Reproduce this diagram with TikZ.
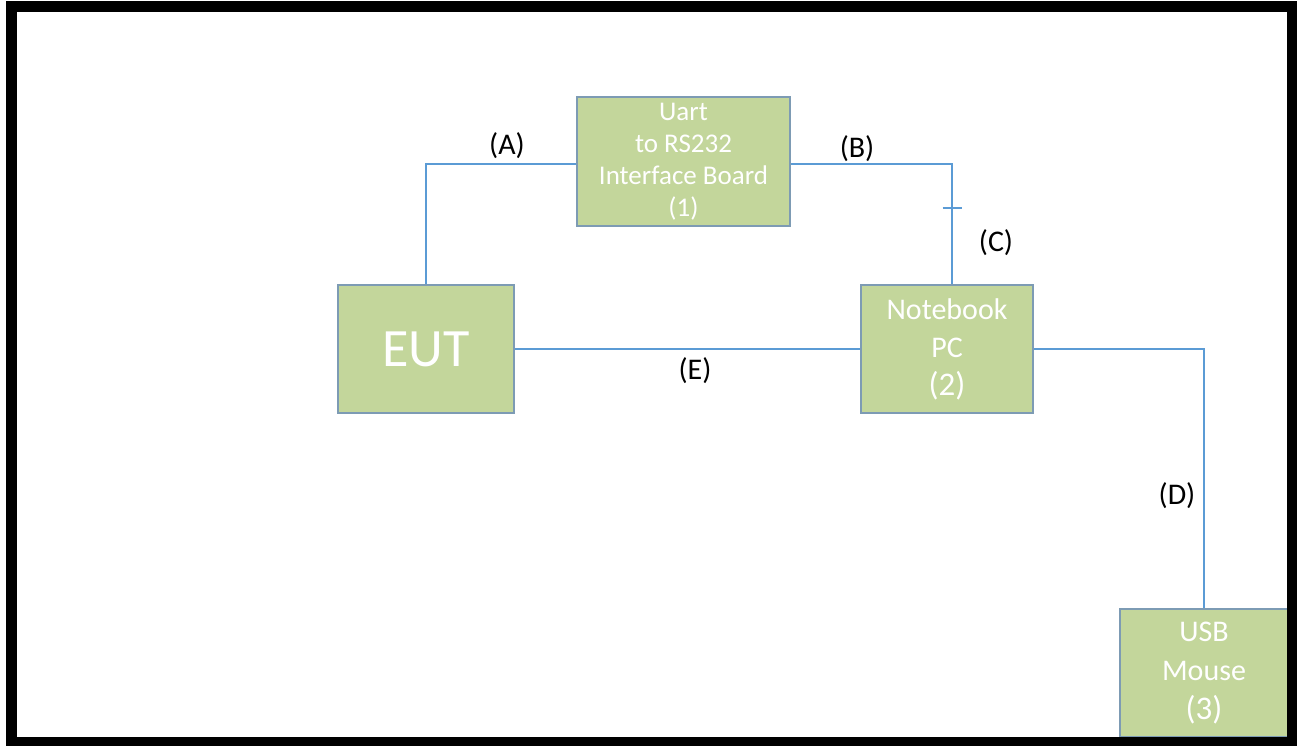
\documentclass[tikz,border=0pt]{standalone}
\usepackage{fontspec}
\setmainfont{Carlito}
\usepackage{tikz}
\usetikzlibrary{positioning}
\definecolor{boxgreen}{RGB}{195,214,155}
\definecolor{boxedge}{RGB}{125,155,180}
\definecolor{wireblue}{RGB}{91,155,213}

\begin{document}
\begin{tikzpicture}[x=1pt, y=-1pt,
    box/.style = {draw=boxedge, line width=1.8pt, fill=boxgreen, text=white,
                  align=center, inner sep=0pt},
    wire/.style = {draw=wireblue, line width=1.7pt},
    lbl/.style = {font=\fontsize{30}{36}\selectfont, inner sep=0pt}
    ]
    \useasboundingbox (0,0) rectangle (1301,746);
    % units
    \node[box, minimum width=213pt, minimum height=129pt,
          font=\fontsize{27}{32}\selectfont] (board) at (683.5,161.5)
          {Uart\\to RS232\\Interface Board\\(1)};
    \node[box, minimum width=176pt, minimum height=128pt,
          font=\fontsize{54}{60}\selectfont] (eut) at (426,349) {EUT};
    \node[box, minimum width=172pt, minimum height=128pt,
          font=\fontsize{30}{38}\selectfont] (pc) at (947,349)
          {Notebook\\PC\\{\fontsize{33}{38}\selectfont (2)}};
    \node[box, minimum width=168pt, minimum height=128pt,
          font=\fontsize{30}{39}\selectfont] (mouse) at (1204,673)
          {USB\\Mouse\\{\fontsize{33}{39}\selectfont (3)}};
    % cables
    \draw[wire] (eut.north) |- ([yshift=-2.5pt]board.west);
    \draw[wire] ([yshift=-2.5pt]board.east) -| ([xshift=5pt]pc.north);
    \draw[wire] (eut.east) -- (pc.west);
    \draw[wire] (pc.east) -| (mouse.north);
    \coordinate (tick) at (952,208);
    \draw[wire] ([xshift=-9.5pt]tick) -- ([xshift=9.5pt]tick);
    \node[lbl] (la) at (507,146) {(A)};
    \node[lbl] (lb) at (857,149) {(B)};
    \node[lbl] (lc) at (996,243) {(C)};
    \node[lbl] (ld) at (1177,496) {(D)};
    \node[lbl] (le) at (695,371) {(E)};
    % frame
    \draw[line width=10.5pt] (11.5,6.5) rectangle (1292,742);
\end{tikzpicture}
\end{document}
